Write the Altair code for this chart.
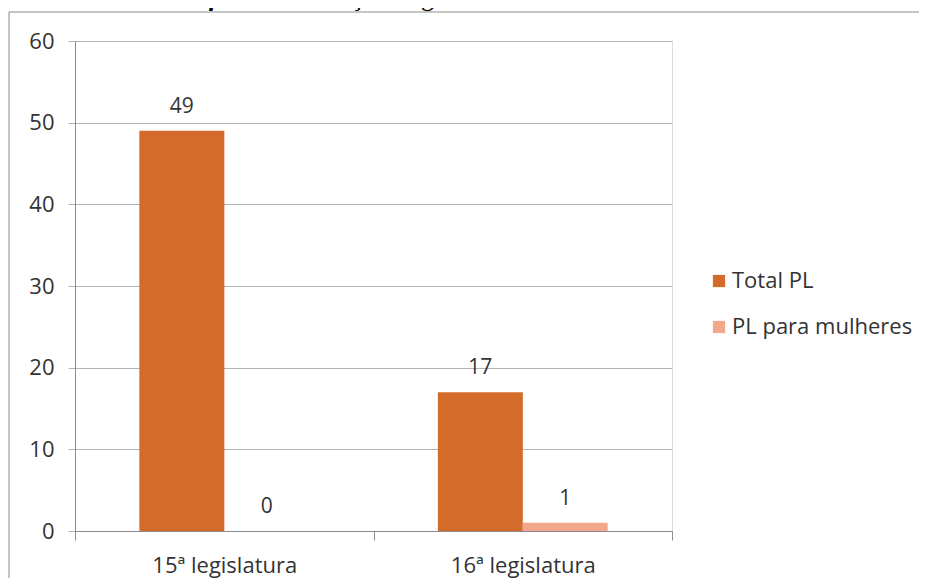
import altair as alt
import pandas as pd

# ---- data ----
categories = ["15ª legislatura", "16ª legislatura"]
series = ["Total PL", "PL para mulheres"]
total_pl = [49, 17]
pl_mulheres = [0, 1]
colors = ["#D36B2B", "#F2A78B"]
y_ticks = [0, 10, 20, 30, 40, 50, 60]
title_bold = "Gráfico 10"
title_rest = "Produção Legislativa – Vereadora Marta Costa"

rows = []
for i, c in enumerate(categories):
    rows.append({"cat": c, "serie": series[0], "valor": total_pl[i]})
    rows.append({"cat": c, "serie": series[1], "valor": pl_mulheres[i]})
df = pd.DataFrame(rows)

FONT = "Open Sans"
TXT = "#333333"

base = alt.Chart(df)

x_enc = alt.X(
    "cat:N",
    sort=categories,
    title=None,
    scale=alt.Scale(paddingInner=0, paddingOuter=0),
    axis=alt.Axis(
        labelAngle=0,
        labelFont=FONT,
        labelFontSize=22,
        labelColor=TXT,
        labelPadding=15,
        tickBand="extent",
        tickSize=9,
        tickColor="#8C8C8C",
        domainColor="#8C8C8C",
        grid=False,
    ),
)
xoff_enc = alt.XOffset(
    "serie:N", sort=series, scale=alt.Scale(paddingInner=0, paddingOuter=0.76)
)
y_enc = alt.Y(
    "valor:Q",
    title=None,
    scale=alt.Scale(domain=[0, 60], nice=False),
    axis=alt.Axis(
        values=y_ticks,
        labelFont=FONT,
        labelFontSize=22,
        labelColor=TXT,
        labelPadding=14,
        tickSize=7,
        tickColor="#B3B3B3",
        gridColor="#B3B3B3",
        domainColor="#8C8C8C",
    ),
)
color_enc = alt.Color(
    "serie:N",
    sort=series,
    scale=alt.Scale(domain=series, range=colors),
    legend=alt.Legend(
        title=None,
        orient="none",
        legendX=633,
        legendY=229,
        symbolType="square",
        symbolSize=150,
        symbolStrokeWidth=0,
        labelFont=FONT,
        labelFontSize=22,
        labelColor=TXT,
        labelOffset=2,
        labelLimit=400,
        rowPadding=24,
        padding=0,
    ),
)

bars = base.mark_bar(size=85).encode(
    x=x_enc, xOffset=xoff_enc, y=y_enc, color=color_enc
)

labels = base.mark_text(
    font=FONT, fontSize=21, color=TXT, baseline="alphabetic", align="center", dy=-18
).encode(
    x=alt.X("cat:N", sort=categories),
    xOffset=alt.XOffset("serie:N", sort=series),
    y="valor:Q",
    text="valor:Q",
)

one = alt.Chart(pd.DataFrame({"k": [0]}))
frame_top = one.mark_rule(color="#8C8C8C", strokeWidth=1).encode(
    x=alt.value(-66), x2=alt.value(900), y=alt.value(-29)
)
frame_left = one.mark_rule(color="#8C8C8C", strokeWidth=1).encode(
    x=alt.value(-66), y=alt.value(-29), y2=alt.value(600)
)
t1 = one.mark_text(
    font="Liberation Serif", fontSize=26, fontStyle="italic", fontWeight="bold",
    align="left", baseline="alphabetic", color="#000000"
).encode(x=alt.value(92), y=alt.value(-35), text=alt.value(title_bold))
t2 = one.mark_text(
    font="Liberation Serif", fontSize=26, align="left", baseline="alphabetic",
    color="#000000"
).encode(x=alt.value(214), y=alt.value(-35), text=alt.value(title_rest))

chart = (
    alt.layer(frame_top, frame_left, t1, t2, bars, labels)
    .resolve_scale(x="shared")
    .properties(
        width=597,
        height=490,
        autosize=alt.AutoSizeParams(type="none"),
        padding={"left": 67, "top": 33, "right": 247, "bottom": 47},
    )
    .configure_view(stroke=None)
    .configure(background="white")
)

chart.save("out.html", embed_options={"renderer": "svg", "actions": False})
